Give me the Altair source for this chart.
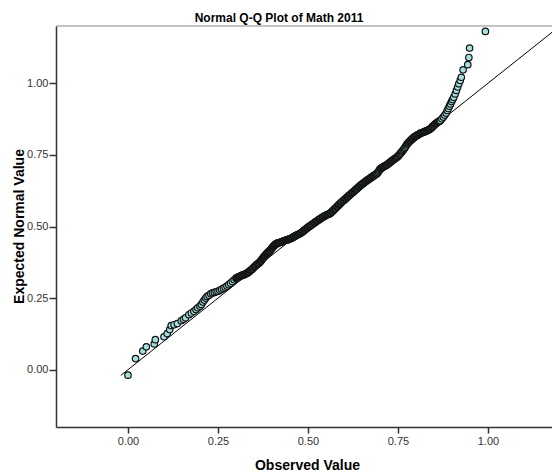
import altair as alt
import pandas as pd

observed = [
    0.000, 0.021, 0.041, 0.051, 0.073, 0.076, 0.100, 0.109, 0.116, 0.120,
    0.128, 0.137, 0.148, 0.154, 0.160, 0.169, 0.176, 0.183, 0.189, 0.194,
    0.200, 0.204, 0.208, 0.212, 0.216, 0.220, 0.225, 0.230, 0.235, 0.240,
    0.245, 0.250, 0.255, 0.260, 0.265, 0.270, 0.275, 0.280, 0.285, 0.290,
    0.295, 0.300, 0.304, 0.308, 0.312, 0.316, 0.320, 0.324, 0.328, 0.332,
    0.336, 0.340, 0.344, 0.348, 0.352, 0.356, 0.360, 0.364, 0.368, 0.371,
    0.374, 0.377, 0.380, 0.383, 0.386, 0.389, 0.392, 0.396, 0.399, 0.402,
    0.405, 0.408, 0.411, 0.414, 0.418, 0.422, 0.426, 0.430, 0.434, 0.438,
    0.442, 0.446, 0.450, 0.454, 0.458, 0.462, 0.466, 0.470, 0.474, 0.479,
    0.483, 0.487, 0.491, 0.495, 0.499, 0.503, 0.507, 0.511, 0.516, 0.520,
    0.524, 0.528, 0.532, 0.535, 0.539, 0.543, 0.547, 0.551, 0.555, 0.559,
    0.563, 0.567, 0.571, 0.575, 0.579, 0.583, 0.587, 0.591, 0.595, 0.600,
    0.604, 0.608, 0.612, 0.616, 0.620, 0.624, 0.628, 0.632, 0.636, 0.640,
    0.644, 0.648, 0.652, 0.656, 0.660, 0.664, 0.668, 0.672, 0.676, 0.680,
    0.684, 0.688, 0.692, 0.696, 0.700, 0.704, 0.708, 0.712, 0.716, 0.720,
    0.724, 0.728, 0.732, 0.736, 0.740, 0.744, 0.748, 0.752, 0.756, 0.760,
    0.764, 0.768, 0.772, 0.776, 0.780, 0.784, 0.788, 0.792, 0.796, 0.800,
    0.804, 0.808, 0.812, 0.816, 0.820, 0.824, 0.828, 0.832, 0.836, 0.840,
    0.844, 0.848, 0.852, 0.856, 0.860, 0.864, 0.868, 0.872, 0.876, 0.880,
    0.884, 0.887, 0.890, 0.893, 0.896, 0.899, 0.902, 0.905, 0.909, 0.9125,
    0.916, 0.919, 0.923, 0.926, 0.931, 0.944, 0.947, 0.949, 0.993,
]
expected = [
    -0.019, 0.039, 0.065, 0.080, 0.090, 0.105, 0.115, 0.126, 0.140, 0.154,
    0.157, 0.161, 0.171, 0.176, 0.181, 0.192, 0.198, 0.204, 0.210, 0.216,
    0.222, 0.228, 0.236, 0.243, 0.250, 0.256, 0.260, 0.265, 0.268, 0.270,
    0.272, 0.274, 0.277, 0.281, 0.284, 0.288, 0.292, 0.297, 0.302, 0.308,
    0.314, 0.319, 0.322, 0.324, 0.327, 0.329, 0.331, 0.333, 0.335, 0.338,
    0.342, 0.346, 0.350, 0.355, 0.360, 0.365, 0.369, 0.373, 0.378, 0.383,
    0.388, 0.393, 0.397, 0.402, 0.406, 0.410, 0.413, 0.418, 0.423, 0.428,
    0.432, 0.436, 0.439, 0.441, 0.443, 0.444, 0.446, 0.448, 0.450, 0.452,
    0.453, 0.455, 0.457, 0.459, 0.462, 0.465, 0.468, 0.471, 0.473, 0.476,
    0.480, 0.484, 0.488, 0.492, 0.496, 0.500, 0.503, 0.507, 0.511, 0.515,
    0.518, 0.522, 0.525, 0.528, 0.531, 0.534, 0.537, 0.540, 0.542, 0.544,
    0.547, 0.552, 0.557, 0.562, 0.567, 0.572, 0.577, 0.582, 0.587, 0.592,
    0.597, 0.601, 0.606, 0.610, 0.615, 0.619, 0.623, 0.628, 0.632, 0.637,
    0.641, 0.646, 0.649, 0.653, 0.657, 0.661, 0.664, 0.668, 0.671, 0.675,
    0.678, 0.682, 0.685, 0.692, 0.700, 0.704, 0.707, 0.710, 0.713, 0.716,
    0.720, 0.724, 0.728, 0.732, 0.735, 0.739, 0.743, 0.748, 0.754, 0.760,
    0.766, 0.773, 0.781, 0.789, 0.794, 0.799, 0.804, 0.809, 0.813, 0.816,
    0.819, 0.822, 0.825, 0.827, 0.829, 0.831, 0.833, 0.835, 0.838, 0.841,
    0.846, 0.851, 0.856, 0.860, 0.864, 0.867, 0.870, 0.876, 0.882, 0.889,
    0.896, 0.905, 0.912, 0.920, 0.928, 0.936, 0.943, 0.951, 0.963, 0.975,
    0.987, 0.998, 1.010, 1.021, 1.047, 1.065, 1.090, 1.123, 1.181,
]

# Further cases in the dense middle band (overlapping markers)
observed_mid = [
    0.302, 0.306, 0.310, 0.314, 0.318, 0.322, 0.326, 0.330, 0.334, 0.338,
    0.342, 0.346, 0.350, 0.354, 0.358, 0.362, 0.366, 0.3695, 0.3725, 0.3755,
    0.3785, 0.3815, 0.3845, 0.3875, 0.3905, 0.394, 0.3975, 0.4005, 0.4035, 0.4065,
    0.4095, 0.4125, 0.416, 0.420, 0.424, 0.428, 0.432, 0.436, 0.440, 0.444,
    0.448, 0.452, 0.456, 0.460, 0.464, 0.468, 0.472, 0.4765, 0.481, 0.485,
    0.489, 0.493, 0.497, 0.501, 0.505, 0.509, 0.5135, 0.518, 0.522, 0.526,
    0.530, 0.5335, 0.537, 0.541, 0.545, 0.549, 0.553, 0.557, 0.561, 0.565,
    0.569, 0.573, 0.577, 0.581, 0.585, 0.589, 0.593, 0.5975, 0.602, 0.606,
    0.610, 0.614, 0.618, 0.622, 0.626, 0.630, 0.634, 0.638, 0.642, 0.646,
    0.650, 0.654, 0.658, 0.662, 0.666, 0.670, 0.674, 0.678, 0.682, 0.686,
    0.690, 0.694, 0.698, 0.702, 0.706, 0.710, 0.714, 0.718, 0.722, 0.726,
    0.730, 0.734, 0.738, 0.742, 0.746, 0.750, 0.754, 0.758, 0.762, 0.766,
    0.770, 0.774, 0.778, 0.782, 0.786, 0.790, 0.794, 0.798, 0.802, 0.806,
    0.810, 0.814, 0.818, 0.822, 0.826, 0.830, 0.834, 0.838, 0.842, 0.846,
    0.850, 0.854, 0.858, 0.862, 0.866,
]
expected_mid = [
    0.3205, 0.323, 0.3255, 0.328, 0.330, 0.332, 0.334, 0.3365, 0.340, 0.344,
    0.348, 0.3525, 0.3575, 0.3625, 0.367, 0.371, 0.3755, 0.3805, 0.3855, 0.3905,
    0.395, 0.3995, 0.404, 0.408, 0.4115, 0.4155, 0.4205, 0.4255, 0.430, 0.434,
    0.4375, 0.440, 0.442, 0.4435, 0.445, 0.447, 0.449, 0.451, 0.4525, 0.454,
    0.456, 0.458, 0.4605, 0.4635, 0.4665, 0.4695, 0.472, 0.4745, 0.478, 0.482,
    0.486, 0.490, 0.494, 0.498, 0.5015, 0.505, 0.509, 0.513, 0.5165, 0.520,
    0.5235, 0.5265, 0.5295, 0.5325, 0.5355, 0.5385, 0.541, 0.543, 0.5455, 0.5495,
    0.5545, 0.5595, 0.5645, 0.5695, 0.5745, 0.5795, 0.5845, 0.5895, 0.5945, 0.599,
    0.6035, 0.608, 0.6125, 0.617, 0.621, 0.6255, 0.630, 0.6345, 0.639, 0.6435,
    0.6475, 0.651, 0.655, 0.659, 0.6625, 0.666, 0.6695, 0.673, 0.6765, 0.680,
    0.6835, 0.6885, 0.696, 0.702, 0.7055, 0.7085, 0.7115, 0.7145, 0.718, 0.722,
    0.726, 0.730, 0.7335, 0.737, 0.741, 0.7455, 0.751, 0.757, 0.763, 0.7695,
    0.777, 0.785, 0.7915, 0.7965, 0.8015, 0.8065, 0.811, 0.8145, 0.8175, 0.8205,
    0.8235, 0.826, 0.828, 0.830, 0.832, 0.834, 0.8365, 0.8395, 0.8435, 0.8485,
    0.8535, 0.858, 0.862, 0.8655, 0.8685,
]

# Reference line (expected = observed)
ref_x = [-0.02, 1.2]
ref_y = [-0.02, 1.2]

tick_vals = [0.0, 0.25, 0.5, 0.75, 1.0]
FONT = "Liberation Sans"

pts = pd.DataFrame({"obs": observed + observed_mid, "exp": expected + expected_mid})
pts = pts.sort_values("obs").reset_index(drop=True)
ref = pd.DataFrame({"obs": ref_x, "exp": ref_y})
top = pd.DataFrame({"exp": [1.2]})

xscale = alt.Scale(domain=[-0.2, 1.178], nice=False, zero=False)
yscale = alt.Scale(domain=[-0.2, 1.2], nice=False, zero=False)

xaxis = alt.Axis(
    values=tick_vals, format=".2f", grid=False, title="Observed Value",
    titleFontSize=14, titleFontWeight="bold", titleFont=FONT,
    titleX=251, titleY=42, titleBaseline="alphabetic", titleAlign="center",
    labelFont=FONT, labelFontSize=11, labelColor="#333333", labelPadding=2,
    tickSize=6, tickColor="#333333", tickWidth=1.5,
    domainColor="#333333", domainWidth=1.5,
)
yaxis = alt.Axis(
    values=tick_vals, format=".2f", grid=False, title="Expected Normal Value",
    titleFontSize=14, titleFontWeight="bold", titleFont=FONT,
    titleX=-37, titleY=200, titleAngle=-90, titleBaseline="middle", titleAlign="center",
    labelFont=FONT, labelFontSize=11, labelColor="#333333", labelPadding=1,
    tickSize=7, tickColor="#333333", tickWidth=1.5,
    domainColor="#333333", domainWidth=1.5,
)

line = alt.Chart(ref).mark_line(color="black", strokeWidth=1, clip=True).encode(
    x=alt.X("obs:Q", scale=xscale, axis=xaxis),
    y=alt.Y("exp:Q", scale=yscale, axis=yaxis),
)

points = alt.Chart(pts).mark_point(
    shape="circle", filled=True, fill="#a4e0e0", stroke="#111111",
    strokeWidth=1.2, size=42, opacity=1, fillOpacity=1, strokeOpacity=1,
).encode(
    x=alt.X("obs:Q", scale=xscale, axis=xaxis),
    y=alt.Y("exp:Q", scale=yscale, axis=yaxis),
)

topline = alt.Chart(top).mark_rule(color="#888888", strokeWidth=1).encode(
    y=alt.Y("exp:Q", scale=yscale, axis=yaxis),
)

chart = (
    alt.layer(topline, line, points)
    .properties(
        width=496, height=401,
        title=alt.TitleParams(
            "Normal Q-Q Plot of Math 2011", font=FONT, fontSize=12,
            fontWeight="bold", color="black", anchor="middle", dx=-25,
            dy=13, offset=5, baseline="alphabetic",
        ),
        autosize=alt.AutoSizeParams(type="none"),
        padding={"left": 56, "top": 26, "right": 0, "bottom": 45},
        background="white",
    )
    .configure_view(stroke=None)
)

chart.save("out.html", embed_options={"renderer": "svg", "actions": False})
